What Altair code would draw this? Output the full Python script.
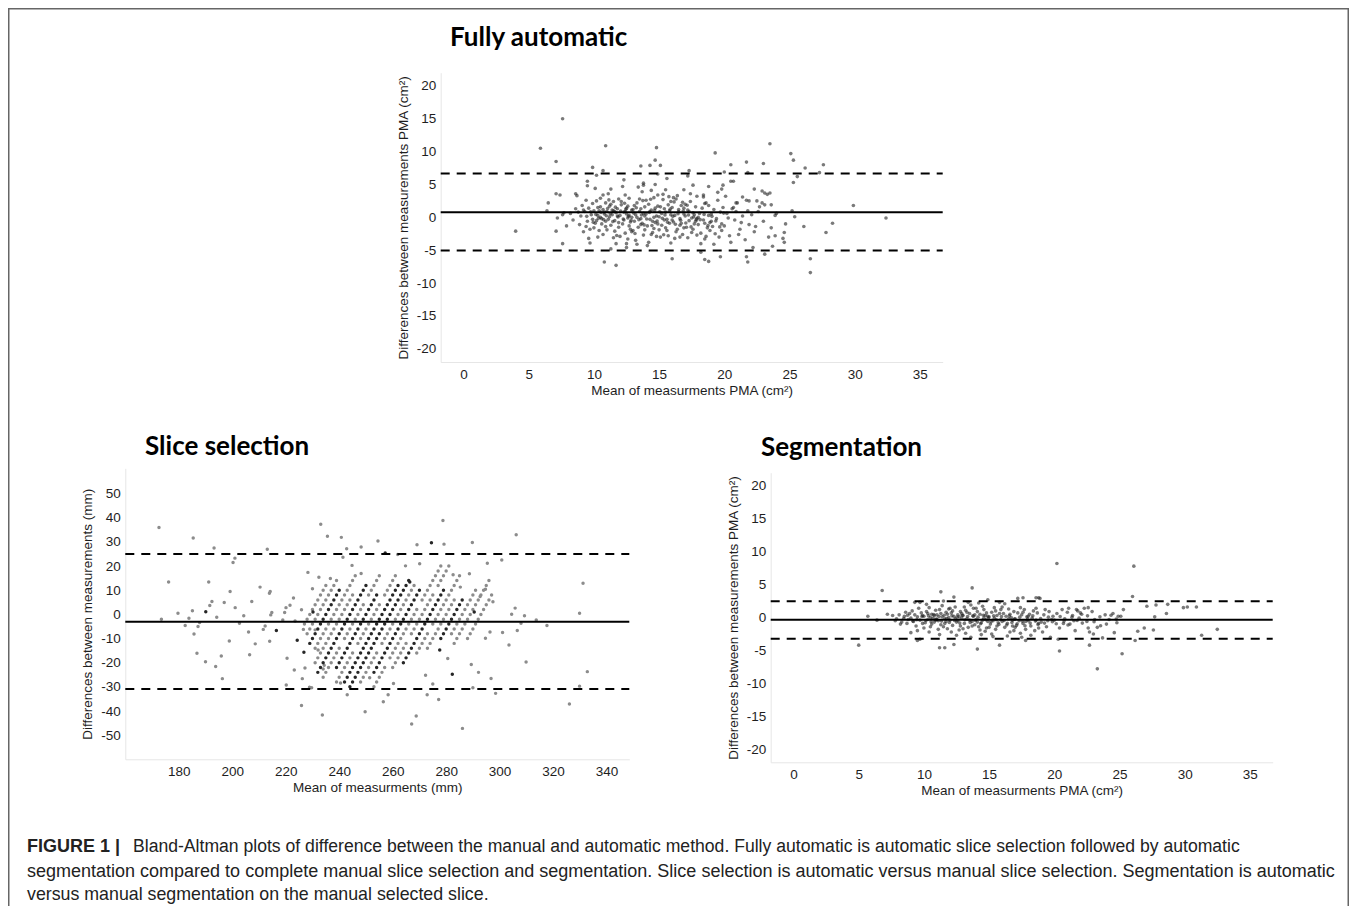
import altair as alt
import pandas as pd

W, H = 1341, 898
FONT = "Liberation Sans"

# ---------------- data ----------------
# Fully automatic: (mean, difference) in cm^2
fa_core = [
    (8.2,0.6),(8.4,-0.4),(8.6,1.3),(8.7,3.3),(8.9,-1.1),(9.0,0.2),(9.1,1.8),(9.2,-2.2),(9.3,0.9),(9.4,2.6),
    (9.5,-0.6),(9.6,1.4),(9.7,-1.8),(9.8,0.4),(9.9,2.1),(9.6,-3.2),(9.4,-1.4),(9.9,-0.3),(9.2,1.1),(8.8,0.8),
    (10.0,1.0),(10.1,-0.9),(10.2,2.5),(10.3,0.3),(10.4,-2.0),(10.5,1.6),(10.6,-0.2),(10.7,3.4),(10.8,0.8),(10.9,-1.4),
    (10.1,4.4),(10.3,-3.0),(10.5,0.0),(10.7,1.2),(10.9,2.2),(10.2,-0.5),(10.4,1.0),(10.6,-1.0),(10.8,0.5),(10.0,-1.6),
    (10.5,2.9),(10.9,-0.6),(10.3,1.5),(10.7,-2.6),
    (11.0,0.9),(11.1,-0.3),(11.2,1.7),(11.3,-1.2),(11.4,0.4),(11.5,2.4),(11.6,-2.1),(11.7,0.7),(11.8,1.3),(11.9,-0.8),
    (11.1,3.6),(11.3,4.3),(11.5,-3.1),(11.7,-4.0),(11.9,2.8),(11.2,0.1),(11.4,1.1),(11.6,-0.5),(11.8,0.2),(11.0,-1.9),
    (11.3,2.0),(11.6,0.9),(11.9,-1.5),(11.5,1.0),
    (12.0,0.3),(12.1,1.9),(12.2,-1.0),(12.3,0.8),(12.4,-2.4),(12.5,1.4),(12.6,-0.1),(12.7,2.9),(12.8,-0.7),(12.9,1.1),
    (12.2,4.7),(12.4,3.4),(12.6,-3.3),(12.8,-1.8),(12.0,-2.9),(12.3,-0.4),(12.5,0.5),(12.7,-1.3),(12.9,0.0),(12.1,2.4),
    (12.6,1.7),(12.9,-2.2),(12.4,0.9),(12.7,0.3),
    (13.0,1.2),(13.1,-0.6),(13.2,0.4),(13.3,2.2),(13.4,-1.5),(13.5,0.9),(13.6,-0.2),(13.7,3.9),(13.8,-2.7),(13.9,1.6),
    (13.2,-3.5),(13.4,4.6),(13.6,-1.1),(13.8,0.6),(13.0,-2.0),(13.3,0.0),(13.5,2.8),(13.7,-0.9),(13.9,-1.9),(13.1,1.8),
    (13.6,1.3),(13.9,0.2),(13.3,-4.1),(13.8,5.2),
    (14.0,0.5),(14.1,-1.3),(14.2,2.0),(14.3,-0.3),(14.4,1.1),(14.5,-2.3),(14.6,3.0),(14.7,-0.8),(14.8,0.2),(14.9,1.7),
    (14.2,-3.8),(14.4,4.1),(14.6,-1.7),(14.8,-2.9),(14.0,2.6),(14.3,0.9),(14.5,-0.6),(14.7,1.4),(14.9,-1.0),(14.1,-4.3),
    (14.6,0.0),(14.9,3.4),(14.4,-2.6),(14.7,5.0),
    (15.0,0.1),(15.1,1.6),(15.2,-1.2),(15.3,2.7),(15.4,-0.4),(15.5,0.8),(15.6,-2.0),(15.7,1.9),(15.8,-0.9),(15.9,0.4),
    (15.1,-3.0),(15.3,3.5),(15.5,-1.6),(15.7,-2.8),(15.9,2.4),(15.2,0.6),(15.4,1.3),(15.6,-0.3),(15.8,1.0),(15.0,-1.9),
    (15.5,4.2),(15.9,-3.9),
    (16.0,1.5),(16.1,-0.7),(16.2,0.3),(16.3,2.8),(16.4,-1.8),(16.5,0.9),(16.6,-0.2),(16.7,1.8),(16.8,-2.6),(16.9,0.5),
    (16.2,-3.2),(16.4,3.3),(16.6,-1.2),(16.8,2.3),(16.0,-0.4),(16.3,-2.2),(16.5,1.2),(16.7,-0.9),(16.9,-1.6),(16.1,3.0),
    (16.6,-3.0),(16.9,1.4),
    (17.0,0.2),(17.1,-1.5),(17.2,1.1),(17.3,-0.5),(17.4,2.4),(17.5,-2.3),(17.6,0.7),(17.7,-1.0),(17.8,1.6),(17.9,-0.2),
    (17.2,-3.1),(17.4,3.6),(17.6,-1.8),(17.8,-0.6),(17.0,2.0),(17.3,0.9),(17.5,-0.1),(17.7,0.4),(17.9,-2.7),
    (18.0,-1.1),(18.1,0.6),(18.2,-2.4),(18.3,1.4),(18.4,-0.4),(18.5,-3.3),(18.6,2.2),(18.7,-1.6),(18.8,0.3),(18.9,-0.8),
    (18.2,-4.0),(18.4,3.1),(18.6,-2.9),(18.8,1.8),(18.0,0.0),(18.5,-0.9),(18.9,-2.0),
    (19.0,0.5),(19.1,-1.4),(19.2,1.2),(19.3,-2.5),(19.4,-0.2),(19.5,2.6),(19.6,-3.0),(19.7,0.8),(19.8,-1.0),(19.9,1.5),
    (19.2,-4.1),(19.5,3.8),(19.8,-2.0),(19.0,-0.6),
    (20.0,-1.3),(20.2,0.6),(20.4,-2.8),(20.6,1.3),(20.8,-0.4),(21.0,2.2),(21.2,-1.8),(21.4,0.2),(21.6,-3.4),(21.8,1.0),
    (20.1,3.2),(20.5,-3.8),(20.9,0.9),(21.3,-0.8),(21.7,2.6),(20.3,-0.1),(21.1,-2.6),(21.9,-1.1),
    (22.1,0.4),(22.4,-1.4),(22.7,1.6),(23.0,-0.6),(23.3,3.5),(23.6,-1.6),(23.9,0.3),(22.3,-2.2),(22.9,2.2),(23.4,-3.0),
    (22.6,0.9),(23.1,1.9),
]
fa_dense = [
    (10.15,0.45),(10.35,-0.15),(10.55,0.75),(10.75,-0.35),(10.95,0.25),(11.05,1.35),(11.25,0.55),(11.45,-0.65),(11.65,1.55),(11.85,0.05),
    (12.05,0.95),(12.25,-0.25),(12.45,1.25),(12.65,0.15),(12.85,-0.45),(13.05,0.65),(13.25,1.45),(13.45,-0.35),(13.65,0.35),(13.85,-1.15),
    (14.05,-0.25),(14.25,0.75),(14.45,-1.25),(14.65,1.05),(14.85,-0.55),(15.05,0.85),(15.25,-0.15),(15.45,0.35),(15.65,-0.75),(15.85,1.25),
    (16.05,0.15),(16.25,-1.05),(16.45,0.55),(16.65,-0.45),(16.85,0.95),(17.05,-0.85),(17.25,0.35),(17.45,-1.45),(17.65,0.05),(17.85,-0.35),
    (9.45,0.15),(9.75,0.85),(9.95,-0.75),(18.15,-0.35),(18.45,0.45),(18.75,-1.25),(19.05,0.15),(19.35,-0.55),(19.65,-1.45),(19.95,0.65),
    (11.15,2.65),(12.35,2.15),(13.15,-2.45),(14.35,2.75),(15.35,-2.65),(16.15,2.35),(17.15,1.85),(11.75,-2.75),(13.75,2.55),(15.75,3.15),
]
fa_outer = [
    (7.6,15.0),(5.9,10.5),(4.0,-2.1),(7.1,8.5),(10.9,10.9),(14.8,10.6),(23.5,11.2),(19.3,9.8),(25.1,9.7),(25.3,8.7),
    (23.0,8.2),(21.7,8.4),(20.5,8.0),(27.6,8.0),(26.2,7.5),(25.6,6.2),(25.3,5.3),(27.3,6.8),(29.9,1.8),(32.4,-0.1),
    (28.3,-0.9),(27.8,-2.3),(26.6,-6.3),(26.6,-8.4),(26.1,-1.4),(25.4,0.1),(25.2,1.0),(24.7,-1.0),(24.6,-2.3),(24.6,-3.8),
    (23.9,-2.8),(23.7,-4.4),(23.1,-5.6),(22.2,-4.6),(21.7,-6.0),(21.8,-6.8),(19.7,-6.0),(18.5,-6.4),(18.8,-6.7),(18.2,-5.3),
    (16.0,-6.3),(11.7,-7.3),(10.8,-6.8),(7.6,-4.0),(7.1,-2.1),(7.2,-0.1),(6.5,2.2),(7.1,3.6),(7.4,3.4),(6.4,1.0),
    (7.6,0.4),(7.7,0.7),(7.9,-1.3),(8.6,3.6),(9.5,5.5),(9.5,4.8),(9.9,7.6),(10.2,6.4),(10.7,7.1),(9.7,-3.9),
    (11.3,-4.8),(12.3,5.7),(12.5,-4.0),(12.5,-4.6),(13.6,7.8),(14.3,7.9),(14.7,8.7),(15.1,7.9),(14.9,6.6),(15.6,5.9),
    (13.8,4.9),(17.3,7.1),(17.2,6.3),(17.6,4.9),(16.9,4.2),(17.9,3.2),(18.8,4.7),(19.8,4.3),(19.9,4.9),(20.0,6.9),
    (20.5,5.5),(20.7,5.5),(18.4,3.4),(18.5,2.1),(21.8,6.8),(22.3,4.3),(22.5,2.5),(22.9,4.0),(23.1,3.7),(23.5,3.7),
    (23.6,1.9),(24.0,0.6),(21.9,2.5),(21.4,3.1),(20.9,2.2),(20.7,1.5),(24.5,-3.2),
]

# Segmentation: (mean, difference) in cm^2
seg_core = [
    (7.2,0.5),(7.6,0.3),(7.9,-0.2),(8.1,0.4),(8.3,-0.7),(8.5,0.2),(8.7,-0.9),(8.9,0.6),(8.2,-1.0),(8.8,-0.3),(7.8,-0.5),(8.6,0.8),
    (9.0,-0.1),(9.1,1.0),(9.2,-0.6),(9.3,0.4),(9.4,-1.3),(9.5,0.1),(9.6,1.4),(9.7,-0.4),(9.8,0.7),(9.9,-0.9),(9.3,2.3),(9.7,-3.3),
    (9.5,-2.0),(9.9,0.3),
    (10.0,0.2),(10.1,-0.8),(10.2,0.9),(10.3,-0.3),(10.4,1.5),(10.5,-1.4),(10.6,0.5),(10.7,-0.1),(10.8,-0.7),(10.9,1.1),(10.2,2.0),
    (10.4,-2.2),(10.6,-1.0),(10.8,0.3),(10.0,-1.6),(10.5,0.0),(10.3,0.6),(10.9,-0.4),
    (11.0,0.4),(11.1,-0.5),(11.2,1.2),(11.3,-1.1),(11.4,0.1),(11.5,2.5),(11.6,-0.2),(11.7,0.8),(11.8,-1.7),(11.9,0.0),(11.2,-2.6),
    (11.4,1.8),(11.6,-0.9),(11.8,0.5),(11.0,-0.3),(11.5,-1.4),(11.3,0.6),(11.9,1.3),(11.1,-1.8),(11.7,-0.6),
    (12.0,-0.4),(12.1,0.7),(12.2,-1.2),(12.3,0.2),(12.4,1.6),(12.5,-0.7),(12.6,0.4),(12.7,-1.9),(12.8,0.9),(12.9,-0.1),(12.3,3.1),
    (12.5,-2.7),(12.2,1.0),(12.6,-0.5),(12.8,-1.3),(12.0,1.4),(12.4,-0.2),(12.9,0.6),(12.1,-2.2),(12.7,0.1),
    (13.0,0.3),(13.1,-0.9),(13.2,1.1),(13.3,-0.2),(13.4,-1.5),(13.5,0.6),(13.6,1.9),(13.7,-0.6),(13.8,0.2),(13.9,-1.1),(13.2,-2.4),
    (13.4,2.3),(13.6,-3.0),(13.8,1.4),(13.0,-1.7),(13.5,-0.4),(13.3,0.8),(13.9,0.4),(13.1,1.6),(13.7,-1.3),
    (14.0,-0.3),(14.1,0.9),(14.2,-1.4),(14.3,0.5),(14.4,-0.8),(14.5,1.7),(14.6,-0.1),(14.7,-2.1),(14.8,0.7),(14.9,-0.6),(14.2,2.2),
    (14.4,-2.6),(14.6,1.2),(14.8,-1.6),(14.0,1.4),(14.5,-0.4),(14.3,-1.9),(14.9,0.2),(14.1,-0.7),(14.7,0.3),
    (15.0,0.1),(15.1,-1.0),(15.2,0.8),(15.3,-0.5),(15.4,1.5),(15.5,-1.8),(15.6,0.3),(15.7,-0.8),(15.8,2.3),(15.9,-0.3),(15.2,-2.5),
    (15.4,-0.1),(15.6,-1.3),(15.8,0.6),(15.0,-1.5),(15.5,1.0),(15.3,-2.9),(15.9,1.2),
    (16.0,-0.6),(16.1,0.6),(16.2,-1.5),(16.3,0.2),(16.4,-0.9),(16.5,1.3),(16.6,-2.2),(16.7,0.0),(16.8,-0.4),(16.9,0.9),(16.2,2.1),
    (16.4,-2.8),(16.6,0.5),(16.8,-1.3),(16.0,1.6),(16.5,-0.2),(16.9,-2.0),
    (17.0,-0.2),(17.1,-1.2),(17.2,0.7),(17.3,-0.5),(17.4,-2.4),(17.5,0.4),(17.6,-0.9),(17.7,1.2),(17.8,-1.8),(17.9,0.1),(17.2,2.9),
    (17.5,-3.0),(17.4,1.5),(17.8,-0.6),(17.0,-1.5),(17.6,0.8),
    (18.0,-0.5),(18.1,0.5),(18.2,-1.3),(18.3,-0.1),(18.4,1.0),(18.5,-2.0),(18.6,-0.4),(18.7,0.7),(18.8,-0.9),(18.9,2.9),(18.2,-2.7),
    (18.6,1.4),(18.0,0.2),(18.8,-1.6),
    (19.0,-0.7),(19.2,0.4),(19.4,-1.4),(19.6,0.9),(19.8,-0.3),(19.1,-2.2),(19.5,-0.5),(19.9,0.2),(19.3,1.2),(19.7,-3.0),
    (20.0,-0.4),(20.2,0.6),(20.4,-1.6),(20.6,1.2),(20.8,-0.2),(21.0,0.8),(21.2,-1.0),(21.4,0.3),(21.6,-2.0),(21.8,1.0),(20.3,-3.3),
    (20.7,-0.9),(21.1,1.4),(21.5,-0.5),(21.9,-0.1),
    (22.1,0.5),(22.3,1.4),(22.5,-0.6),(22.7,-2.2),(22.9,0.9),(23.1,-0.3),(23.3,-1.5),(23.5,0.1),(23.7,-3.1),(23.9,0.4),(24.2,-0.3),
    (24.5,0.6),(24.8,-0.8),(25.1,0.2),(25.3,1.2),(22.6,1.5),(23.0,-2.5),(24.0,-1.0),
]
seg_dense = [
    (9.45,-0.35),(9.85,0.15),(10.15,-0.45),(10.35,0.25),(10.55,-0.65),(10.75,0.45),(10.95,-0.25),(11.15,0.15),(11.35,-0.55),(11.55,0.35),
    (11.75,-0.15),(11.95,-0.75),(12.15,0.25),(12.35,-0.45),(12.55,0.05),(12.75,-0.85),(12.95,0.35),(13.15,-0.35),(13.35,0.15),(13.55,-0.75),
    (13.75,0.25),(13.95,-0.45),(14.15,0.05),(14.35,-0.95),(14.55,0.35),(14.75,-0.35),(14.95,-0.05),(15.15,-0.65),(15.35,0.25),(15.55,-0.35),
    (15.75,-1.05),(15.95,0.15),(16.15,-0.45),(16.35,-1.15),(16.55,0.25),(16.75,-0.75),(16.95,-0.25),(17.15,-0.95),(17.35,0.05),(17.55,-0.55),
    (17.75,-1.25),(17.95,-0.25),(18.15,-0.85),(18.35,0.25),(18.55,-0.55),(18.75,-1.05),(18.95,-0.15),(19.25,-0.85),(19.55,0.05),(19.85,-0.65),
    (20.15,-0.95),(20.45,0.15),(20.75,-0.55),(21.05,-1.15),(21.35,0.05),(21.75,-0.45),(22.15,-0.85),(22.55,0.25),(23.05,-0.65),(23.55,-1.25),
    (8.45,-0.15),(8.75,0.35),(9.15,-0.55),(24.35,0.35),(24.75,-0.25),
]
seg_outer = [
    (20.2,8.2),(26.1,7.8),(26.0,3.2),(6.8,4.1),(5.0,-4.2),(5.7,0.2),(6.4,-0.4),(13.7,4.5),(11.3,3.9),(23.3,-7.8),
    (25.2,-5.5),(20.4,-5.1),(15.8,-4.2),(14.1,-4.8),(11.6,-4.6),(11.2,-4.6),(12.3,-4.1),(22.7,-4.2),(27.1,1.7),(27.8,1.9),
    (28.6,0.6),(28.7,2.0),(27.7,0.1),(29.9,1.5),(30.2,1.6),(30.9,1.6),(31.3,-2.7),(32.5,-1.8),(27.6,-1.9),(26.9,-1.6),
    (26.4,-2.1),(26.2,-3.5),(24.6,-2.3),(24.9,0.2),(22.6,-1.6),(22.0,0.7),(21.7,1.2),(18.6,3.0),(18.8,3.0),(17.6,3.0),
    (17.8,-3.5),(14.9,2.7),(9.7,2.3),(9.5,-3.5),(9.0,-2.3),
]

# Slice selection: (mean, difference) in mm
ss_gray_sparse = [
    (172.6,36.0),(173.5,-2.0),(176.2,13.4),(179.7,0.5),(182.4,-4.6),(183.8,-1.6),(185.1,1.5),(185.4,31.6),(185.7,-8.1),(186.8,-16.1),
    (187.2,-5.0),(187.8,-3.4),(190.0,-19.6),(191.2,13.4),(191.6,3.7),(192.4,5.3),(193.2,27.5),(193.8,-21.6),(194.2,-1.2),(195.9,-17.2),
    (196.3,-26.6),(197.0,4.9),(198.9,-11.0),(199.2,9.5),(200.3,21.5),(201.0,23.3),(201.1,2.8),(202.7,-3.7),(204.3,-0.6),(206.1,-7.3),
    (206.5,-16.7),(207.3,5.3),(208.6,-12.2),(210.4,11.3),(211.6,-6.2),(212.3,-4.8),(213.1,27.0),(213.9,8.8),(214.2,9.5),(214.0,-11.1),
    (214.4,-0.2),(214.8,0.8),(218.9,-2.3),(219.6,0.8),(220.1,2.8),(220.5,-18.2),(220.2,-29.2),(221.6,3.8),(222.9,6.8),(223.2,-23.0),
    (223.5,-2.7),(225.9,1.9),(226.2,-26.6),(225.9,-37.7),(226.6,-6.2),(227.2,-22.2),(228.3,17.4),(228.9,-30.2),(229.7,-30.4),(230.0,10.6),
    (231.0,-6.4),(232.1,-14.7),(232.4,15.4),(233.1,37.3),(233.7,-41.7),(234.0,-22.6),(234.4,-21.1),(235.6,32.4),(236.7,14.9),(240.8,31.9),
    (240.5,-28.4),(241.4,23.7),(242.8,27.2),(243.0,-33.3),(244.8,20.3),(248.2,27.9),(248.2,16.9),(249.7,-40.3),(251.4,-26.2),(254.5,30.4),
    (256.5,-36.2),(258.3,-33.3),(260.3,-28.6),(261.9,24.8),(264.8,20.1),(267.1,-45.4),(268.8,-42.1),(269.1,28.8),(270.1,21.0),(272.3,-25.2),
    (272.9,-33.3),(275.0,-28.8),(277.2,-35.2),(278.8,38.9),(279.2,29.1),(280.6,-18.3),(282.6,16.4),(285.3,11.3),(286.1,-47.2),(288.7,16.8),
    (289.4,-20.7),(289.8,29.8),(290.0,-30.4),(292.1,-24.0),(292.7,7.4),(294.7,10.4),(294.7,-9.9),(295.4,21.2),(296.4,-7.3),(296.8,-26.5),
    (297.5,5.2),(298.5,-32.7),(300.8,22.5),(301.1,-7.5),(303.5,-12.7),(304.5,0.1),(305.8,2.6),(306.2,33.0),(306.6,-6.7),(308.0,-3.7),
    (309.3,-0.6),(309.9,-19.7),(313.7,-2.3),(317.7,-4.6),(326.1,-37.1),(329.9,0.5),(329.9,-29.7),(331.2,12.9),(332.8,-23.7),
]
# diagonal runs of the discrete slice positions (grey dots)
ss_gray_runs = [
    (227,-4),(228,-2),(229,0),(230,2),(231,4),(232,6),(233,8),(234,10),(235,12),
    (228,-8),(229,-6),(230,-4),(231,-2),(232,0),(233,2),(234,4),(235,6),(236,8),(237,10),(238,12),(239,14),
    (231,-20),(232,-18),(233,-16),(234,-14),(235,-12),(236,-10),(237,-8),(238,-6),(239,-4),(240,-2),(241,0),(242,2),(243,4),(244,6),(245,8),
    (231,-14),(232,-12),(233,-10),(234,-8),(235,-6),(236,-4),(237,-2),(238,0),(239,2),(240,4),(241,6),(242,8),(243,10),(244,12),(245,14),(246,16),
    (234,-26),(235,-24),(236,-22),(237,-20),(238,-18),(239,-16),(240,-14),(242,-10),(243,-8),(244,-6),(245,-4),(246,-2),(247,0),
    (248,2),(249,4),(251,8),(252,10),(253,12),(254,14),(255,16),
    (239,-28),(240,-26),(241,-24),(242,-22),(243,-20),(244,-18),(245,-16),(247,-12),(248,-10),(249,-8),(250,-6),(251,-4),(252,-2),
    (253,0),(254,2),(255,4),(257,8),(258,10),(259,12),(260,14),(261,16),
    (248,-28),(249,-26),(250,-24),(251,-22),(252,-20),(253,-18),(254,-16),(256,-12),(257,-10),(258,-8),(259,-6),(260,-4),(261,-2),
    (262,0),(263,2),(264,4),(265,6),(266,8),(267,10),(268,12),
    (253,-30),(254,-28),(255,-26),(256,-24),(257,-22),(259,-18),(260,-16),(261,-14),(262,-12),(263,-10),(264,-8),(265,-6),(266,-4),
    (267,-2),(268,0),(269,2),(271,6),(272,8),(273,10),(274,12),(275,14),(276,16),(277,18),(278,20),
    (260,-22),(261,-20),(262,-18),(263,-16),(264,-14),(265,-12),(267,-8),(268,-6),(269,-4),(270,-2),(271,0),(272,2),(273,4),
    (274,6),(275,8),(277,12),(278,14),(279,16),(280,18),(281,20),
    (269,-16),(270,-14),(271,-12),(272,-10),(273,-8),(275,-4),(276,-2),(277,0),(278,2),(279,4),(280,6),(281,8),(282,10),(283,12),(284,14),(285,16),
    (273,-14),(274,-12),(275,-10),(276,-8),(277,-6),(278,-4),(279,-2),(280,0),(281,2),(282,4),(283,6),
    (282,-8),(283,-6),(284,-4),(285,-2),(286,0),(287,2),(288,4),(289,6),(290,8),(291,10),
    (283,-12),(284,-10),(285,-8),(286,-6),(287,-4),(288,-2),(289,0),(290,2),(291,4),(292,6),(293,8),(294,10),(295,12),(296,14),
    (288,-10),(289,-8),(290,-6),(291,-4),(292,-2),(293,0),(294,2),(295,4),(296,6),(297,8),
]
# overlapping (darker) dots
ss_dark = [
    (190.1,1.1),(216.5,-6.7),(224.3,-10.7),(226.8,-15.7),(230.2,1.0),(257.2,25.4),(266.4,13.4),(274.5,29.7),(277.6,-14.7),
    (282.3,-24.8),(290.5,1.0),
    (229,-12),(230,-10),(231,-8),(232,-6),(233,-4),(234,-2),(235,0),(236,2),(237,4),(238,6),(239,8),(240,10),
    (232,-24),(233,-22),(234,-20),(235,-18),(236,-16),(237,-14),(238,-12),(239,-10),(240,-8),(241,-6),(242,-4),(243,-2),
    (244,0),(245,2),(246,4),(247,6),(248,8),(249,10),(250,12),
    (239,-22),(240,-20),(241,-18),(242,-16),(243,-14),(244,-12),(245,-10),(246,-8),(247,-6),(248,-4),(249,-2),(250,0),
    (251,2),(252,4),(253,6),(254,8),
    (242,-28),(243,-26),(244,-24),(245,-22),(246,-20),(247,-18),(248,-16),(249,-14),(250,-12),(251,-10),(252,-8),(253,-6),
    (254,-4),(255,-2),(256,0),(257,2),(258,4),(259,6),(260,8),(261,10),(262,12),
    (244,-30),(245,-28),(246,-26),(247,-24),(248,-22),(249,-20),(250,-18),(251,-16),(252,-14),(253,-12),(254,-10),(255,-8),
    (256,-6),(257,-4),(258,-2),(259,0),(260,2),(261,4),(262,6),(263,8),(264,10),(265,12),(266,14),
    (253,-24),(254,-22),(255,-20),(256,-18),(257,-16),(258,-14),(259,-12),(260,-10),(261,-8),(262,-6),(263,-4),(264,-2),
    (265,0),(266,2),(267,4),(268,6),(269,8),(270,10),
    (264,-20),(265,-18),(266,-16),(267,-14),(268,-12),(269,-10),(270,-8),(271,-6),(272,-4),(273,-2),(274,0),(275,2),
    (276,4),(277,6),(278,8),(279,10),
    (278,-10),(279,-8),(280,-6),(281,-4),(282,-2),(283,0),(284,2),(285,4),(286,6),
]

# bias and limits of agreement (mean, upper, lower)
fa_lines = [0.76, 6.68, -5.06]
ss_lines = [-3.0, 25.0, -30.9]
seg_lines = [-0.36, 2.47, -3.23]

pma_xticks = [0, 5, 10, 15, 20, 25, 30, 35]
pma_yticks = [-20, -15, -10, -5, 0, 5, 10, 15, 20]
ss_xticks = [180, 200, 220, 240, 260, 280, 300, 320, 340]
ss_yticks = [-50, -40, -30, -20, -10, 0, 10, 20, 30, 40, 50]

panel_titles = ["Fully automatic", "Slice selection", "Segmentation"]
pma_xtitle = "Mean of measurments PMA (cm\u00b2)"
pma_ytitle = "Differences between measurements PMA (cm\u00b2)"
ss_xtitle = "Mean of measurments (mm)"
ss_ytitle = "Differences between measurements (mm)"

caption_bold = "FIGURE 1 |"
caption_lines = [
    "Bland-Altman plots of difference between the manual and automatic method. Fully automatic is automatic slice selection followed by automatic",
    "segmentation compared to complete manual slice selection and segmentation. Slice selection is automatic versus manual slice selection. Segmentation is automatic",
    "versus manual segmentation on the manual selected slice.",
]

HYPHEN_LABEL = "datum.value < 0 ? '-' + abs(datum.value) : '' + datum.value"


def axis(orient, offset, values, title, tpad):
    return alt.Axis(
        orient=orient, offset=offset, values=values, title=title, grid=False,
        ticks=False, tickSize=0, domainColor="#e6e6e6", domainWidth=1,
        labelFont=FONT, labelFontSize=13.5, labelColor="#1e1e1e", labelPadding=5,
        labelExpr=HYPHEN_LABEL,
        titleFont=FONT, titleFontSize=13.5, titleFontWeight="normal", titleColor="#1e1e1e",
        titlePadding=tpad, labelOverlap=False,
    )


def panel(point_sets, xdom, ydom, xr, yr, xticks, yticks, xtitle, ytitle, lines):
    xs = alt.Scale(domain=xdom, range=xr, nice=False, zero=False)
    ys = alt.Scale(domain=ydom, range=yr, nice=False, zero=False)
    xax = axis("bottom", yr[0] - H, xticks, xtitle, 3)
    yax = axis("left", -xr[0], yticks, ytitle, 6)
    X = alt.X("x:Q", scale=xs, axis=xax)
    Y = alt.Y("y:Q", scale=ys, axis=yax)
    layers = []
    for pts, color, op, size in point_sets:
        df = pd.DataFrame(pts, columns=["x", "y"])
        layers.append(
            alt.Chart(df).mark_circle(color=color, opacity=op, size=size).encode(x=X, y=Y)
        )
    mean_df = pd.DataFrame({"x": [xdom[0]], "x2": [xdom[1]], "y": [lines[0]]})
    loa_df = pd.DataFrame({"x": [xdom[0]] * 2, "x2": [xdom[1]] * 2, "y": lines[1:]})
    layers.append(alt.Chart(mean_df).mark_rule(color="black", strokeWidth=2).encode(x=X, x2="x2:Q", y=Y))
    layers.append(alt.Chart(loa_df).mark_rule(color="black", strokeWidth=2, strokeDash=[9, 7]).encode(x=X, x2="x2:Q", y=Y))
    return alt.layer(*layers)


fa_panel = panel(
    [(fa_core + fa_dense + fa_outer, "#222222", 0.6, 13)],
    [-1.75, 36.75], [-22, 22], [432.7, 934.7], [354.0, 64.7],
    pma_xticks, pma_yticks, pma_xtitle, pma_ytitle, fa_lines,
)
ss_panel = panel(
    [(ss_gray_sparse + ss_gray_runs, "#8c8c8c", 1.0, 12), (ss_dark, "#262626", 1.0, 12)],
    [160, 348.5], [-60, 60.5], [117.3, 621.3], [751.3, 460.3],
    ss_xticks, ss_yticks, ss_xtitle, ss_ytitle, ss_lines,
)
seg_panel = panel(
    [(seg_core + seg_dense + seg_outer, "#222222", 0.6, 13)],
    [-1.75, 36.75], [-22, 22], [762.7, 1264.7], [754.3, 464.7],
    pma_xticks, pma_yticks, pma_xtitle, pma_ytitle, seg_lines,
)


def text(txt, x, y, size, weight, font, color="#111111"):
    return alt.Chart(pd.DataFrame({"t": [txt]})).mark_text(
        align="left", baseline="alphabetic", fontSize=size, fontWeight=weight, font=font, color=color
    ).encode(x=alt.value(x), y=alt.value(y), text="t:N")


title_layers = [
    text(panel_titles[0], 442, 38, 26, "bold", "Lato", "#000000"),
    text(panel_titles[1], 137, 447, 26, "bold", "Lato", "#000000"),
    text(panel_titles[2], 753, 448, 26, "bold", "Lato", "#000000"),
]
cap_layers = [
    text(caption_bold, 19, 844, 18, "bold", FONT, "#222222"),
    text(caption_lines[0], 125, 844, 17.6, "normal", FONT, "#222222"),
    text(caption_lines[1], 19, 869, 18.0, "normal", FONT, "#222222"),
    text(caption_lines[2], 19, 892, 17.8, "normal", FONT, "#222222"),
]

one = pd.DataFrame({"a": [0]})
frame = [
    alt.Chart(one).mark_rule(color="#666666", strokeWidth=1.5).encode(x=alt.value(0.75), y=alt.value(0), y2=alt.value(H)),
    alt.Chart(one).mark_rule(color="#666666", strokeWidth=1.5).encode(x=alt.value(0), x2=alt.value(W), y=alt.value(0.75)),
    alt.Chart(one).mark_rule(color="#666666", strokeWidth=1.5).encode(x=alt.value(W - 0.75), y=alt.value(0), y2=alt.value(H)),
]

chart = alt.layer(
    fa_panel, ss_panel, seg_panel, *title_layers, *cap_layers, *frame
).resolve_scale(
    x="independent", y="independent"
).properties(
    width=W, height=H, padding=0, background="white",
    autosize=alt.AutoSizeParams(type="none"),
).configure_view(stroke=None)

chart.save("out.html", embed_options={"renderer": "svg", "actions": False})
